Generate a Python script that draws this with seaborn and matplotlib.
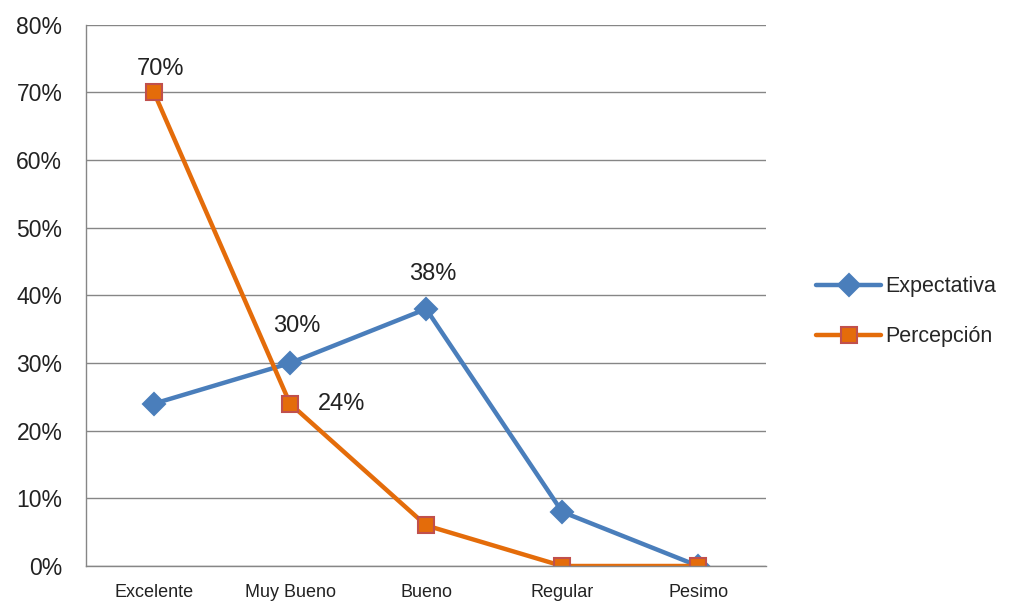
import matplotlib
matplotlib.use("Agg")
import matplotlib.pyplot as plt
import pandas as pd
import seaborn as sns

categorias = ["Excelente", "Muy Bueno", "Bueno", "Regular", "Pesimo"]
expectativa = [24, 30, 38, 8, 0]
percepcion = [70, 24, 6, 0, 0]
etiquetas = [("Percepción", 0, 70), ("Expectativa", 1, 30),
             ("Expectativa", 2, 38), ("Percepción", 1, 24)]

sns.set_theme(style="white")
plt.rcParams["font.family"] = ["Liberation Sans", "DejaVu Sans"]

df = pd.DataFrame({
    "pos": list(range(len(categorias))) * 2,
    "valor": expectativa + percepcion,
    "serie": ["Expectativa"] * len(categorias) + ["Percepción"] * len(categorias),
})

fig = plt.figure(figsize=(10.11, 6.06), dpi=100)
ax = fig.add_axes([0.085, 0.066, 0.673, 0.893])

colores = {"Expectativa": "#4A7EBB", "Percepción": "#E46C0A"}
bordes = {"Expectativa": "#4A7EBB", "Percepción": "#C0504D"}
sns.lineplot(data=df, x="pos", y="valor", hue="serie", style="serie",
             markers={"Expectativa": "D", "Percepción": "s"}, dashes=False,
             palette=colores, linewidth=3.2, markersize=11, ax=ax, legend=False)

for line, serie in zip(ax.lines, ["Expectativa", "Percepción"]):
    line.set_markeredgecolor(bordes[serie])
    line.set_markeredgewidth(1.5)
    line.set_label(serie)

ax.set_xlim(-0.5, len(categorias) - 0.5)
ax.set_ylim(0, 80)
ax.set_yticks(range(0, 81, 10))
ax.set_yticklabels([f"{v}%" for v in range(0, 81, 10)], fontsize=16.5, color="#222222")
ax.set_xticks(range(len(categorias)))
ax.set_xticklabels(categorias, fontsize=13, color="#222222")
ax.set_xticks([i - 0.5 for i in range(len(categorias) + 1)], minor=True)
ax.tick_params(axis="x", which="major", length=0, pad=13)
ax.tick_params(axis="x", which="minor", length=6, color="#868686", width=1, direction="out")
ax.tick_params(axis="y", length=7, color="#868686", width=1, direction="out", pad=10)
ax.set_xlabel("")
ax.set_ylabel("")

ax.grid(axis="y", color="#868686", linewidth=1)
ax.set_axisbelow(True)
for s in ["top", "right"]:
    ax.spines[s].set_visible(False)
for s in ["left", "bottom"]:
    ax.spines[s].set_color("#868686")
    ax.spines[s].set_linewidth(1)

offsets = {("Percepción", 0): (5, 17), ("Expectativa", 1): (5, 27),
           ("Expectativa", 2): (5, 25), ("Percepción", 1): (37, 0)}
for serie, i, v in etiquetas:
    dx, dy = offsets[(serie, i)]
    ax.annotate(f"{v}%", (i, v), xytext=(dx, dy), textcoords="offset points",
                ha="center", va="center", fontsize=17, color="#222222")

ax.legend(loc="center left", bbox_to_anchor=(1.045, 0.47), frameon=False,
          fontsize=15.5, handlelength=3.0, labelspacing=1.35, handletextpad=0.2)

fig.savefig("out.png", dpi=100)
